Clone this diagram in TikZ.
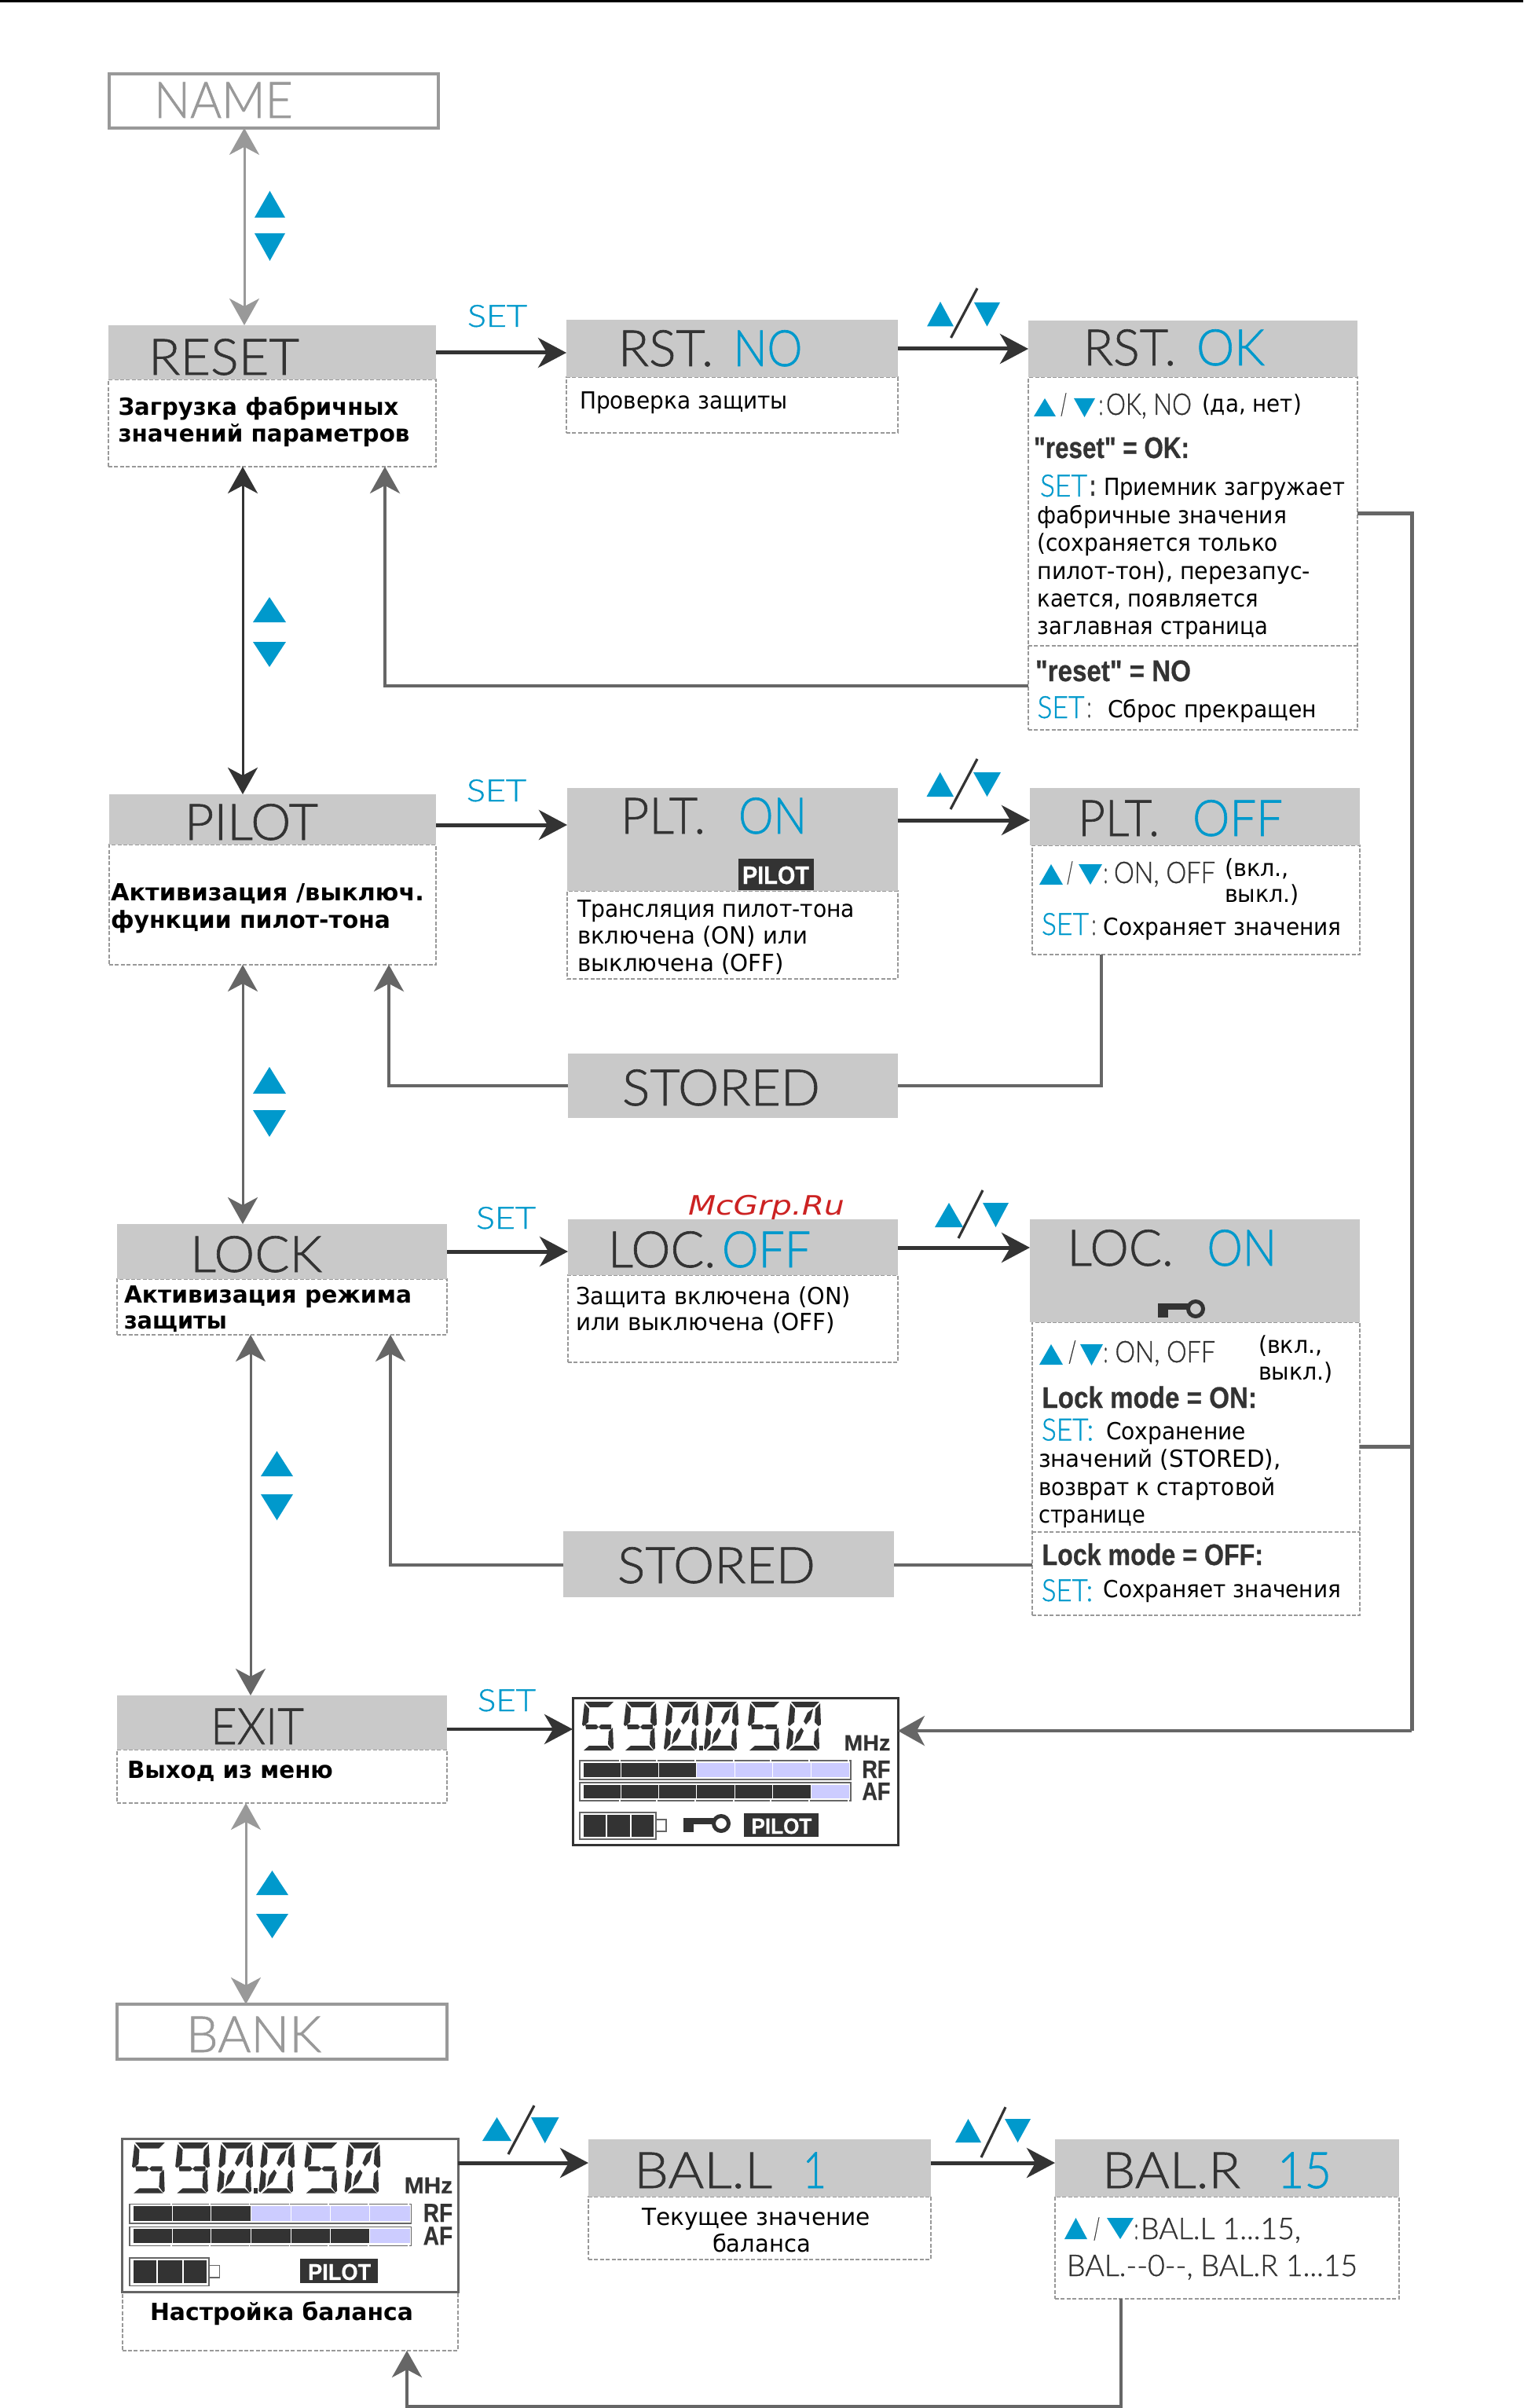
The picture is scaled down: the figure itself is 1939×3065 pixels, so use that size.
\documentclass[tikz,border=0pt]{standalone}
\usepackage{fontspec}
\usepackage{graphicx}
\usetikzlibrary{arrows.meta}
\newfontfamily\fthin[FakeBold=1]{Lato Light}
\newfontfamily\fbody{DejaVu Sans}
\newfontfamily\fbar[BoldFeatures={FakeBold=0.6}]{Liberation Sans}
\definecolor{dk}{HTML}{333333}
\definecolor{md}{HTML}{666666}
\definecolor{lt}{HTML}{999999}
\definecolor{br}{HTML}{C9C9C9}
\definecolor{bl}{HTML}{0099CC}
\definecolor{lav}{HTML}{CCCCFF}
\definecolor{rd}{HTML}{CC2222}
\newcommand\ftitle{\fthin\fontsize{32}{32}\selectfont\color{dk}}
\newcommand\ftitlb{\fthin\fontsize{32}{32}\selectfont\color{bl}}
\newcommand\ftitlg{\fthin\fontsize{32}{32}\selectfont\color{lt}}
\newcommand\fset{\fthin\fontsize{19.5}{19.5}\selectfont\color{bl}}
\newcommand\fthn{\fthin\fontsize{19}{19}\selectfont\color{dk}}
\newcommand\ftxt{\fbody\fontsize{15}{15}\selectfont\color{black}}
\newcommand\fbld{\fbody\bfseries\fontsize{15}{15}\selectfont\color{black}}
\newcommand\fnar{\fbar\bfseries\fontsize{19}{19}\selectfont\color{dk}}
\newcommand\ftag{\fbar\bfseries\fontsize{14}{14}\selectfont\color{white}}
\newcommand\ftagb{\fbar\bfseries\fontsize{16}{16}\selectfont\color{white}}
\newcommand\fmhz{\fbar\bfseries\fontsize{14}{14}\selectfont\color{dk}}
\newcommand\fred{\fbody\itshape\fontsize{17}{17}\selectfont\color{rd}}
\newsavebox\fb
\newcommand\fitw[3]{\sbox\fb{#2#3}\pgfmathsetmacro\fr{#1*0.5/\the\wd\fb}\scalebox{\fr}[1]{\usebox\fb}}
\newcounter{tc}
\newcommand\T[5]{\stepcounter{tc}\node[anchor=base west,inner sep=0pt,outer sep=0pt] (t\arabic{tc}) at (#1,#2) {\fitw{#3}{#4}{#5}};}
\newcommand\BX[6]{\node[#2,anchor=north west,inner sep=0pt,outer sep=0pt,minimum width={(#5-#3)*0.5pt},minimum height={(#6-#4)*0.5pt}] (#1) at (#3,#4) {};}
\newcommand\UP[4]{\fill[bl] (#1,#4) -- (#3,#4) -- ({(#1+#3)/2},#2) -- cycle;}
\newcommand\DN[4]{\fill[bl] (#1,#2) -- (#3,#2) -- ({(#1+#3)/2},#4) -- cycle;}
\newcommand\SLASH[4]{\draw[dk,line width=1.6pt] (#1,#2) -- (#3,#4);}
\tikzset{
  graybar/.style={fill=br,draw=none},
  dashbox/.style={draw=lt,line width=1pt,dash pattern=on 2.5pt off 1.2pt,fill=white},
  framebox/.style={draw=lt,line width=2pt,fill=white},
  big/.style={-{Stealth[length=18pt,width=19pt,inset=5.5pt]},draw=dk,line width=2.5pt},
  backl/.style={-{Stealth[length=17pt,width=19pt,inset=5pt]},draw=md,line width=1.9pt},
  plain/.style={draw=md,line width=1.9pt},
  trunk/.style={draw=md,line width=2.5pt},
  twog/.style={{Stealth[length=17pt,width=19pt,inset=5pt]}-{Stealth[length=17pt,width=19pt,inset=5pt]},draw=lt,line width=1.5pt},
  twod/.style={{Stealth[length=17pt,width=19pt,inset=5pt]}-{Stealth[length=17pt,width=19pt,inset=5pt]},draw=dk,line width=1.5pt},
  twom/.style={{Stealth[length=17pt,width=19pt,inset=5pt]}-{Stealth[length=17pt,width=19pt,inset=5pt]},draw=md,line width=1.5pt},
  divd/.style={draw=lt,line width=1.3pt,dash pattern=on 2.5pt off 1.2pt},
}
% seven-segment pieces (local 42 x 62)
\newcommand\Stop{\fill[dk] (5,0) -- (41,0) -- (34,7) -- (11,7) -- cycle;}
\newcommand\Sbot{\fill[dk] (3,62) -- (39,62) -- (33,56) -- (10,56) -- cycle;}
\newcommand\SUL{\fill[dk] (4,2) -- (10,9) -- (9,26) -- (3,31) -- (1,29) -- cycle;}
\newcommand\SLL{\fill[dk] (2,33) -- (8,38) -- (7,54) -- (1,61) -- (-1,59) -- cycle;}
\newcommand\SUR{\fill[dk] (42,2) -- (36,9) -- (35,26) -- (40,31) -- (43,29) -- cycle;}
\newcommand\SLR{\fill[dk] (40,33) -- (35,38) -- (34,54) -- (39,61) -- (41,59) -- cycle;}
\newcommand\SML{\fill[dk] (5,29) -- (19,29) -- (22,32) -- (19,35) -- (6,35) -- cycle;}
\newcommand\SMR{\fill[dk] (22,32) -- (25,29) -- (38,29) -- (38,35) -- (25,35) -- cycle;}
\newcommand\SDU{\fill[dk] (33,9) -- (30,22) -- (24,29) -- (21,25) -- (26,14) -- cycle;}
\newcommand\SDD{\fill[dk] (9,54) -- (12,41) -- (18,33) -- (21,37) -- (16,48) -- cycle;}
\newcommand\DFive[2]{\begin{scope}[shift={(#1,#2)}]\Stop\Sbot\SUL\SML\SMR\SLR\end{scope}}
\newcommand\DNine[2]{\begin{scope}[shift={(#1,#2)}]\Stop\Sbot\SUL\SUR\SML\SMR\SLR\end{scope}}
\newcommand\DZero[2]{\begin{scope}[shift={(#1,#2)}]\Stop\Sbot\SUL\SUR\SLL\SLR\SDU\SDD\end{scope}}
\newcommand\KEY[2]{\begin{scope}[shift={(#1,#2)}]
  \fill[dk] (0,5) rectangle (40,13);
  \fill[dk] (0,5) rectangle (13,23);
  \draw[dk,line width=2.5pt] (48,12) circle[x radius=9.5,y radius=9.5];
\end{scope}}
\newcommand\BAR[4]{% y1 y2 darkcount tick-side
  \draw[md,line width=0.7pt] (9,#1) rectangle (354,#2);
  \foreach \a/\b [count=\i] in {13.7/61.7,61.7/109,109/157.7,157.7/206.7,206.7/254.3,254.3/303,303/352.7}{
    \ifnum\i>#3 \fill[lav] (\a+0.5,#1+3) rectangle (\b-0.5,#2-3);
    \else \fill[dk] (\a+0.5,#1+3) rectangle (\b-0.5,#2-3); \fi
    \draw[white,line width=0.9pt] (\b-2,#4-1.5) -- (\b-2,#4+1.5);}
}
\newcommand\LCD[1]{% common contents
  \DFive{11}{5}\DNine{64}{5}\DZero{117}{5}\DZero{168}{5}\DFive{222}{5}\DZero{273}{5}
  \fill[dk] (161,61) rectangle (166,67);
  \node[anchor=base west,inner sep=0pt,transform shape] (#1mhz) at (345,67) {\fitw{59}{\fmhz}{MHz}};
  \BAR{80}{104}{3}{80}
  \BAR{108}{131}{6}{131}
  \node[anchor=base west,inner sep=0pt,transform shape] (#1rf) at (368,102) {\fitw{36}{\fmhz\fontsize{16}{16}\selectfont}{RF}};
  \node[anchor=base west,inner sep=0pt,transform shape] (#1af) at (368,130) {\fitw{36}{\fmhz\fontsize{16}{16}\selectfont}{AF}};
  \draw[md,line width=0.7pt] (9,146) rectangle (106,180);
  \fill[dk] (14,149) rectangle (42,177);
  \fill[dk] (44,149) rectangle (73,177);
  \fill[dk] (75,149) rectangle (103,177);
  \draw[md,line width=0.7pt] (106,155) rectangle (119,170);
  \fill[dk] (218,147) rectangle (313,177);
  \node[anchor=base west,inner sep=0pt,transform shape] (#1pil) at (227,173) {\fitw{77}{\ftag}{PILOT}};
}
\begin{document}
\begin{tikzpicture}[x=0.5pt,y=-0.5pt]
\path[use as bounding box,fill=white] (0,0) rectangle (1939,3065);
\fill[black] (0,0) rectangle (1939,3);

% guide coordinates
\coordinate (gA) at (311,0);
\coordinate (gB) at (309,0);
\coordinate (gC) at (319,0);
\coordinate (gD) at (313,0);
\coordinate (gRa) at (490,0);
\coordinate (gRb) at (495,0);
\coordinate (gRc) at (497,0);
\coordinate (gRd) at (518,0);
\coordinate (gV) at (1797,0);
\coordinate (gPl) at (1402,0);
\coordinate (gBr) at (1427,0);
\coordinate (yRet) at (0,873);
\coordinate (yTr1) at (0,653.5);
\coordinate (yTr2) at (0,1841);
\coordinate (yTr3) at (0,2203);
\coordinate (yEx) at (0,2201);
\coordinate (yPs) at (0,1382);
\coordinate (yLs) at (0,1992);
\coordinate (yBl) at (0,3063);
\coordinate (y1a) at (0,449);
\coordinate (y1b) at (0,444);
\coordinate (y2a) at (0,1050);
\coordinate (y2b) at (0,1044);
\coordinate (y3a) at (0,1593);
\coordinate (y3b) at (0,1588);
\coordinate (y5) at (0,2753);

% NAME
\BX{name}{framebox}{139}{94}{558}{163}
\T{196}{150}{177}{\ftitlg}{NAME}

% RESET row
\BX{resetbox}{dashbox}{138}{483}{555}{594}
\BX{reset}{graybar}{138}{414}{555}{483}
\T{189}{477}{192}{\ftitle}{RESET}
\T{150.5}{529}{357}{\fbld}{Загрузка фабричных}
\T{150.5}{563}{371}{\fbld}{значений параметров}
\T{595}{416}{76}{\fset}{SET}

\BX{rstnobox}{dashbox}{721}{480}{1143}{551}
\BX{rstno}{graybar}{721}{407.5}{1143}{480}
\T{787}{466}{121}{\ftitle}{RST.}
\T{933.5}{466}{88}{\ftitlb}{NO}
\T{738}{521}{265}{\ftxt}{Проверка защиты}

\BX{rstbox}{dashbox}{1309}{480.5}{1728}{929}
\BX{rstok}{graybar}{1309}{408}{1728}{480.5}
\draw[divd] (1309,822) -- (1728,822);
\T{1379}{465}{118}{\ftitle}{RST.}
\T{1523}{465}{87}{\ftitlb}{OK}
\UP{1316}{507}{1344}{530}
\T{1350}{528}{8}{\fthn}{/}
\DN{1367}{507}{1394}{531}
\T{1399}{528}{5}{\fthn}{:}
\T{1408}{528}{109}{\fthn}{OK, NO}
\T{1530}{524.5}{127}{\ftxt}{(да, нет)}
\T{1316}{583}{198}{\fnar}{"reset" = OK:}
\T{1324}{632}{60}{\fset}{SET}
\T{1387}{631}{8}{\fnar}{:}
\T{1405}{631}{307}{\ftxt}{Приемник загружает}
\T{1320.5}{666}{317.5}{\ftxt}{фабричные значения}
\T{1320.5}{701}{306.5}{\ftxt}{(сохраняется только}
\T{1320.5}{737}{347.5}{\ftxt}{пилот-тон), перезапус-}
\T{1320.5}{772.5}{281.5}{\ftxt}{кается, появляется}
\T{1320.5}{807}{293.5}{\ftxt}{заглавная страница}
\T{1318}{867}{198}{\fnar}{"reset" = NO}
\T{1320.5}{914}{60}{\fset}{SET}
\T{1384}{913}{5}{\fthn}{:}
\T{1410}{913}{266}{\ftxt}{Сброс прекращен}

\draw[big] (reset.east |- y1a) -- (rstno.west |- y1a);
\draw[big] (rstno.east |- y1b) -- (rstok.west |- y1b);
\SLASH{1210.5}{430}{1244}{367}
\UP{1180}{384}{1214}{415.5}
\DN{1240}{385}{1273}{415.5}

% PILOT row
\BX{pilotbox}{dashbox}{139}{1075}{555}{1228}
\BX{pilot}{graybar}{139}{1011}{555}{1075}
\T{235}{1069}{170}{\ftitle}{PILOT}
\T{141}{1146}{399}{\fbld}{Активизация /выключ.}
\T{141}{1181}{356}{\fbld}{функции пилот-тона}
\T{594}{1020}{76}{\fset}{SET}

\BX{pltonbox}{dashbox}{722}{1134}{1143}{1246}
\BX{plton}{graybar}{722}{1003}{1143}{1134}
\T{790}{1061}{108}{\ftitle}{PLT.}
\T{940}{1061}{87}{\ftitlb}{ON}
\BX{plttag}{fill=dk}{940}{1093}{1036}{1133}
\T{945}{1125}{85}{\ftagb}{PILOT}
\T{735}{1167}{353}{\ftxt}{Трансляция пилот-тона}
\T{735}{1201}{293}{\ftxt}{включена (ON) или}
\T{735}{1236}{263}{\ftxt}{выключена (OFF)}

\BX{pltoffbox}{dashbox}{1313.5}{1076}{1731}{1215}
\BX{pltoff}{graybar}{1311}{1003}{1731}{1076}
\T{1372}{1064}{104}{\ftitle}{PLT.}
\T{1518}{1064}{115}{\ftitlb}{OFF}
\UP{1323}{1100}{1353}{1126}
\T{1358}{1124}{8}{\fthn}{/}
\DN{1373}{1100}{1403}{1126}
\T{1405}{1124}{5}{\fthn}{:}
\T{1418}{1124}{129}{\fthn}{ON, OFF}
\T{1559}{1115}{82}{\ftxt}{(вкл.,}
\T{1559}{1148}{95}{\ftxt}{выкл.)}
\T{1326}{1190}{60}{\fset}{SET}
\T{1390}{1190}{5}{\fthn}{:}
\T{1404.6}{1190}{303}{\ftxt}{Сохраняет значения}

\draw[big] (pilot.east |- y2a) -- (plton.west |- y2a);
\draw[big] (plton.east |- y2b) -- (pltoff.west |- y2b);
\SLASH{1210}{1030}{1244}{966}
\UP{1179.5}{983}{1214}{1014}
\DN{1239}{983}{1274}{1014}

\BX{stored1}{graybar}{723}{1341}{1143}{1423}
\T{792}{1407}{252}{\ftitle}{STORED}
\draw[plain] (pltoffbox.south -| gPl) -- (gPl |- yPs) -- (stored1.east |- yPs);
\draw[backl] (stored1.west |- yPs) -| (gRb |- pilotbox.south);

% LOCK row
\BX{lockbox}{dashbox}{149}{1628}{569}{1699}
\BX{lock}{graybar}{149}{1558}{569}{1628}
\T{242}{1619}{168}{\ftitle}{LOCK}
\T{158}{1658}{366}{\fbld}{Активизация режима}
\T{158}{1691}{131}{\fbld}{защиты}
\T{606}{1564}{76}{\fset}{SET}
\T{876}{1546}{199}{\fred}{McGrp.Ru}

\BX{locoffbox}{dashbox}{723}{1623}{1143}{1734}
\BX{locoff}{graybar}{723}{1552}{1143}{1623}
\T{774}{1613}{137}{\ftitle}{LOC.}
\T{919}{1613}{113}{\ftitlb}{OFF}
\T{733}{1660}{350}{\ftxt}{Защита включена (ON)}
\T{733}{1693}{330}{\ftxt}{или выключена (OFF)}

\BX{locbox}{dashbox}{1314}{1682.5}{1731}{2056}
\BX{locon}{graybar}{1311}{1552}{1731}{1682.5}
\draw[divd] (1314,1950) -- (1731,1950);
\T{1358.5}{1611}{135}{\ftitle}{LOC.}
\T{1536.5}{1611}{88.5}{\ftitlb}{ON}
\KEY{1474}{1654}
\UP{1323}{1711}{1353}{1737}
\T{1360}{1734}{10}{\fthn}{/}
\DN{1375}{1711}{1404}{1738}
\T{1405}{1734}{5}{\fthn}{:}
\T{1419.5}{1734}{127.5}{\fthn}{ON, OFF}
\T{1602}{1722}{81.5}{\ftxt}{(вкл.,}
\T{1602}{1756}{95}{\ftxt}{выкл.)}
\T{1326.5}{1792}{273.5}{\fnar}{Lock mode = ON:}
\T{1326}{1833.5}{66}{\fset}{SET:}
\T{1408}{1832.5}{178}{\ftxt}{Сохранение}
\T{1322}{1867}{308.5}{\ftxt}{значений (STORED),}
\T{1322}{1903}{301.6}{\ftxt}{возврат к стартовой}
\T{1322}{1938}{136}{\ftxt}{странице}
\T{1326.5}{1992}{281.5}{\fnar}{Lock mode = OFF:}
\T{1326}{2038}{65}{\fset}{SET:}
\T{1404.6}{2033.6}{302.4}{\ftxt}{Сохраняет значения}

\draw[big] (lock.east |- y3a) -- (locoff.west |- y3a);
\draw[big] (locoff.east |- y3b) -- (locon.west |- y3b);
\SLASH{1220}{1576}{1251}{1515}
\UP{1190}{1531}{1226}{1562}
\DN{1251}{1531}{1284}{1562}

\BX{stored2}{graybar}{717}{1949}{1138}{2033}
\T{786}{2015}{252}{\ftitle}{STORED}
\draw[plain] (stored2.east |- yLs) -- (locbox.west |- yLs);
\draw[backl] (stored2.west |- yLs) -| (gRc |- lockbox.south);

% EXIT row
\BX{exitbox}{dashbox}{149}{2227}{569}{2295}
\BX{exit}{graybar}{149}{2158}{569}{2227}
\T{268}{2220}{119}{\ftitle}{EXIT}
\T{162}{2263}{262}{\fbld}{Выход из меню}
\T{608}{2178}{74}{\fset}{SET}

\BX{disp1}{draw=dk,line width=1.5pt,fill=white}{729}{2161}{1143}{2348}
\begin{scope}[shift={(729,2161)}]
  \LCD{da}
  \KEY{141}{148}
\end{scope}
\draw[big,line width=2.3pt] (exit.east |- yEx) -- (disp1.west |- yEx);

% BANK
\BX{bank}{framebox}{149}{2551}{569}{2621}
\T{237}{2612}{172}{\ftitlg}{BANK}

% vertical links
\draw[twog] (gA |- name.south) -- (gA |- reset.north);
\UP{324}{243}{363}{277}
\DN{324}{297}{363}{332}
\draw[twod] (gB |- resetbox.south) -- (gB |- pilot.north);
\UP{322}{760}{364}{792}
\DN{322}{817}{364}{849}
\draw[twom] (gB |- pilotbox.south) -- (gB |- lock.north);
\UP{322}{1358}{364}{1392}
\DN{322}{1413}{364}{1447}
\draw[twom] (gC |- lockbox.south) -- (gC |- exit.north);
\UP{332}{1847}{373}{1879}
\DN{332}{1902}{373}{1935}
\draw[twog] (gD |- exitbox.south) -- (gD |- bank.north);
\UP{326}{2381}{367}{2412}
\DN{326}{2436}{367}{2467}

% returns and trunk
\draw[backl] (rstbox.west |- yRet) -| (gRa |- resetbox.south);
\draw[trunk] (rstbox.east |- yTr1) -- (gV |- yTr1) -- (gV |- yTr3);
\draw[trunk] (locbox.east |- yTr2) -- (gV |- yTr2);
\draw[backl] (gV |- yTr3) -- (disp1.east |- yTr3);

% balance row
\BX{dispbox}{dashbox}{155.6}{2917}{583}{2992}
\BX{disp2}{draw=md,line width=1.5pt,fill=white}{155.6}{2722}{583}{2917}
\begin{scope}[shift={(155.6,2722)},scale=1.04,transform shape]
  \LCD{db}
\end{scope}
\T{191}{2953}{335}{\fbld}{Настройка баланса}

\BX{ballbox}{dashbox}{749}{2796}{1185}{2876}
\BX{ball}{graybar}{749}{2723}{1185}{2796}
\T{807}{2785}{176}{\ftitle}{BAL.L}
\T{1022}{2785}{30}{\ftitlb}{1}
\T{817}{2832}{291}{\ftxt}{Текущее значение}
\T{907}{2866}{125}{\ftxt}{баланса}

\BX{balrbox}{dashbox}{1343}{2796}{1781}{2926}
\BX{balr}{graybar}{1343}{2723}{1781}{2796}
\T{1403}{2785}{176}{\ftitle}{BAL.R}
\T{1626}{2785}{69}{\ftitlb}{15}
\UP{1355}{2823}{1384}{2850}
\T{1392}{2850}{8}{\fthn}{/}
\DN{1409}{2823}{1443}{2850}
\T{1444}{2850}{5}{\fthn}{:}
\T{1452}{2850}{204}{\fthn}{BAL.L 1...15,}
\T{1358}{2897}{370}{\fthn}{BAL.-{}-0-{}-, BAL.R 1...15}

\draw[big] (disp2.east |- y5) -- (ball.west |- y5);
\draw[big] (ball.east |- y5) -- (balr.west |- y5);
\SLASH{647}{2742}{680}{2680}
\UP{614}{2695}{651}{2725}
\DN{676}{2695}{711.5}{2728}
\SLASH{1249}{2746}{1280}{2682}
\UP{1216}{2697}{1249}{2727}
\DN{1279}{2697}{1312}{2727}
\draw[backl] (balrbox.south -| gBr) -- (gBr |- yBl) -- (gRd |- yBl) -- (gRd |- dispbox.south);
\end{tikzpicture}
\end{document}
